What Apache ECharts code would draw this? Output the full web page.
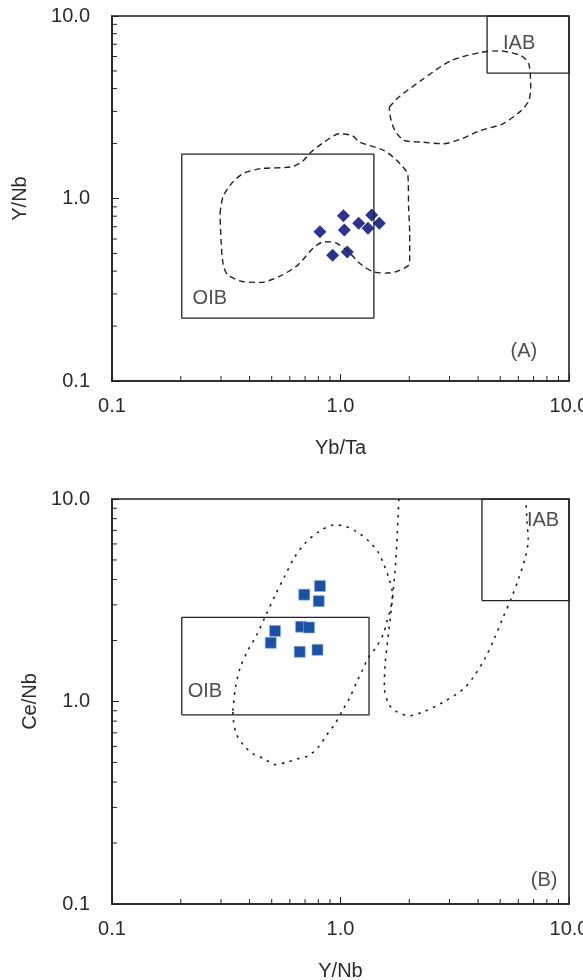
<!DOCTYPE html>
<html>
<head>
<meta charset="utf-8">
<script src="https://cdn.jsdelivr.net/npm/echarts@6/dist/echarts.min.js"></script>
<style>
  html, body { margin: 0; padding: 0; background: #fff; }
  #chart { width: 583px; height: 980px; }
</style>
</head>
<body>
<div id="chart"></div>
<script>
// tick labels shared by both panels
const tickValues = [0.1, 1, 10];
const tickLabels = ['0.1', '1.0', '10.0'];
const minorTicks = [0.2, 0.3, 0.4, 0.5, 0.6, 0.7, 0.8, 0.9, 2, 3, 4, 5, 6, 7, 8, 9];

// (A) Yb/Ta vs Y/Nb samples
const ybTa = [1.03, 0.813, 1.039, 1.201, 1.369, 1.319, 1.479, 0.924, 1.071];
const yNbA = [0.805, 0.658, 0.672, 0.731, 0.812, 0.687, 0.731, 0.489, 0.509];

// (B) Y/Nb vs Ce/Nb samples
const yNbB = [0.813, 0.694, 0.803, 0.672, 0.728, 0.517, 0.495, 0.663, 0.793];
const ceNb = [3.72, 3.37, 3.13, 2.34, 2.32, 2.23, 1.95, 1.76, 1.80];

// field boxes, [xmin, xmax, ymin, ymax]
const oibBoxA = [0.202, 1.40, 0.221, 1.75];
const iabBoxA = [4.38, 10, 4.87, 10];
const oibBoxB = [0.202, 1.333, 0.859, 2.60];
const iabBoxB = [4.16, 10, 3.15, 10];

// dashed fields in (A)
const lowerFieldA = [
  [0.297, 0.828], [0.306, 1.021], [0.338, 1.233], [0.379, 1.380], [0.448, 1.458],
  [0.605, 1.488], [0.677, 1.585], [0.744, 1.797], [0.848, 2.038], [0.985, 2.262],
  [1.123, 2.215], [1.211, 2.038], [1.545, 1.835], [1.762, 1.618], [1.972, 1.341],
  [1.986, 0.901], [2.008, 0.644], [2.008, 0.442], [1.762, 0.398], [1.574, 0.390],
  [1.381, 0.398], [1.211, 0.442], [1.082, 0.512], [0.949, 0.573], [0.848, 0.580],
  [0.758, 0.534], [0.652, 0.433], [0.541, 0.374], [0.448, 0.347], [0.372, 0.351],
  [0.320, 0.382], [0.306, 0.442], [0.300, 0.592]
];
const upperFieldA = [
  [1.634, 3.162], [1.795, 3.585], [2.248, 4.421], [3.034, 5.68], [4.097, 6.31],
  [4.941, 6.44], [6.187, 6.05], [6.672, 5.45], [6.798, 4.066], [6.672, 3.44],
  [6.187, 3.032], [5.13, 2.566], [4.097, 2.36], [3.396, 2.125], [2.815, 1.995],
  [2.248, 2.038], [1.899, 2.08], [1.729, 2.36], [1.653, 2.79]
];

// dotted fields in (B)
const loopFieldB = [
  [0.338, 0.900], [0.347, 1.172], [0.364, 1.469], [0.392, 1.775], [0.431, 2.144],
  [0.473, 2.689], [0.519, 3.372], [0.570, 4.150], [0.626, 5.108], [0.701, 6.053],
  [0.814, 6.96], [0.945, 7.45], [1.058, 7.31], [1.184, 6.86], [1.324, 6.22],
  [1.454, 5.51], [1.538, 4.83], [1.627, 4.07], [1.689, 3.372], [1.658, 2.90],
  [1.597, 2.49], [1.538, 2.144], [1.427, 1.843], [1.324, 1.646], [1.252, 1.442],
  [1.184, 1.264], [1.098, 1.046], [1.019, 0.900], [0.945, 0.774], [0.877, 0.691],
  [0.799, 0.594], [0.727, 0.541], [0.650, 0.521], [0.581, 0.501], [0.519, 0.488],
  [0.464, 0.521], [0.415, 0.551], [0.378, 0.605], [0.350, 0.691], [0.340, 0.803]
];
const openFieldB = [
  [1.80, 10.0], [1.774, 6.91], [1.741, 4.74], [1.689, 3.247], [1.627, 2.227],
  [1.567, 1.526], [1.556, 1.172], [1.627, 0.970], [1.754, 0.893], [2.0, 0.850],
  [2.322, 0.893], [2.80, 0.989], [3.441, 1.150], [3.849, 1.337], [4.306, 1.646],
  [4.73, 2.064], [5.10, 2.541], [5.60, 3.247], [6.03, 4.07], [6.43, 5.108],
  [6.63, 6.29], [6.55, 7.74], [6.48, 9.70]
];

// text annotations
const textA = [
  { name: 'OIB', value: [0.268, 0.285] },
  { name: 'IAB', value: [6.05, 7.03] },
  { name: '(A)', value: [6.35, 0.146] }
];
const textB = [
  { name: 'OIB', value: [0.255, 1.127] },
  { name: 'IAB', value: [7.70, 7.80] },
  { name: '(B)', value: [7.78, 0.131] }
];

const ink = '#222';
const font = 'Liberation Sans, Arial, sans-serif';

const fmt = v => {
  const i = tickValues.findIndex(t => Math.abs(Math.log10(t) - Math.log10(v)) < 1e-6);
  return i >= 0 ? tickLabels[i] : '';
};

function logAxis(gi, name, gap, isX) {
  return {
    type: 'log', logBase: 10, min: 0.1, max: 10, gridIndex: gi,
    name: name, nameLocation: 'middle', nameGap: gap,
    nameTextStyle: { color: '#2b2b2b', fontSize: 20, fontFamily: font },
    axisLine: { show: true, lineStyle: { color: ink, width: 1.6 } },
    axisTick: { show: true, inside: true, length: 7, lineStyle: { color: ink, width: 1 } },
    minorTick: { show: false },
    splitLine: { show: false },
    axisLabel: {
      color: '#2b2b2b', fontSize: 20, fontFamily: font,
      margin: isX ? 15 : 22, formatter: fmt, showMinLabel: true, showMaxLabel: true
    }
  };
}

function closed(pts) { return pts.concat([pts[0]]); }
function box(b) {
  return [[b[0], b[2]], [b[1], b[2]], [b[1], b[3]], [b[0], b[3]], [b[0], b[2]]];
}

function lineSeries(gi, data, dash, smooth, width) {
  return {
    type: 'line', xAxisIndex: gi, yAxisIndex: gi, data: data,
    symbol: 'none', smooth: smooth, silent: true,
    lineStyle: { color: ink, width: width, type: dash || 'solid' }
  };
}

function minorTickSeries(gi, axis) {
  return {
    type: 'custom', xAxisIndex: gi, yAxisIndex: gi, silent: true, clip: false,
    data: minorTicks.map(v => (axis === 'x' ? [v, 0.1] : [0.1, v])),
    renderItem: (params, api) => {
      const p = api.coord([api.value(0), api.value(1)]);
      const shape = axis === 'x'
        ? { x1: p[0], y1: p[1], x2: p[0], y2: p[1] - 5 }
        : { x1: p[0], y1: p[1], x2: p[0] + 5, y2: p[1] };
      return { type: 'line', shape: shape, style: { stroke: ink, lineWidth: 1 } };
    }
  };
}

function textSeries(gi, items) {
  return {
    type: 'scatter', xAxisIndex: gi, yAxisIndex: gi, symbolSize: 0, silent: true,
    data: items,
    label: {
      show: true, position: 'inside', formatter: '{b}',
      color: ink, fontSize: 20, fontFamily: font
    }
  };
}

const chart = echarts.init(document.getElementById('chart'), null, { renderer: 'canvas' });

const option = {
  animation: false,
  backgroundColor: '#fff',
  grid: [
    { left: 112, top: 16, width: 457, height: 365, show: true, borderColor: ink, borderWidth: 1.6,
      containLabel: false, outerBoundsMode: 'none' },
    { left: 112, top: 499, width: 457, height: 405, show: true, borderColor: ink, borderWidth: 1.6,
      containLabel: false, outerBoundsMode: 'none' }
  ],
  xAxis: [logAxis(0, 'Yb/Ta', 57, true), logAxis(1, 'Y/Nb', 57, true)],
  yAxis: [logAxis(0, 'Y/Nb', 82, false), logAxis(1, 'Ce/Nb', 70, false)],
  series: [
    lineSeries(0, closed(lowerFieldA), [6, 4], 0.25, 1.4),
    lineSeries(0, closed(upperFieldA), [6, 4], 0.25, 1.4),
    lineSeries(0, box(oibBoxA), null, false, 1.3),
    lineSeries(0, box(iabBoxA), null, false, 1.3),
    minorTickSeries(0, 'x'),
    minorTickSeries(0, 'y'),
    textSeries(0, textA),
    {
      type: 'scatter', xAxisIndex: 0, yAxisIndex: 0, symbol: 'diamond', symbolSize: 13,
      itemStyle: { color: '#2b3590', opacity: 1 },
      data: ybTa.map((x, i) => [x, yNbA[i]])
    },
    lineSeries(1, closed(loopFieldB), [2.5, 5.5], 0.3, 1.6),
    lineSeries(1, openFieldB, [2.5, 5.5], 0.3, 1.6),
    lineSeries(1, box(oibBoxB), null, false, 1.3),
    lineSeries(1, box(iabBoxB), null, false, 1.3),
    minorTickSeries(1, 'x'),
    minorTickSeries(1, 'y'),
    textSeries(1, textB),
    {
      type: 'scatter', xAxisIndex: 1, yAxisIndex: 1, symbol: 'rect', symbolSize: 11,
      itemStyle: { color: '#1b52a6', opacity: 1, borderColor: '#8aaad6', borderWidth: 0.6 },
      data: yNbB.map((x, i) => [x, ceNb[i]])
    }
  ]
};

chart.setOption(option);
</script>
</body>
</html>
